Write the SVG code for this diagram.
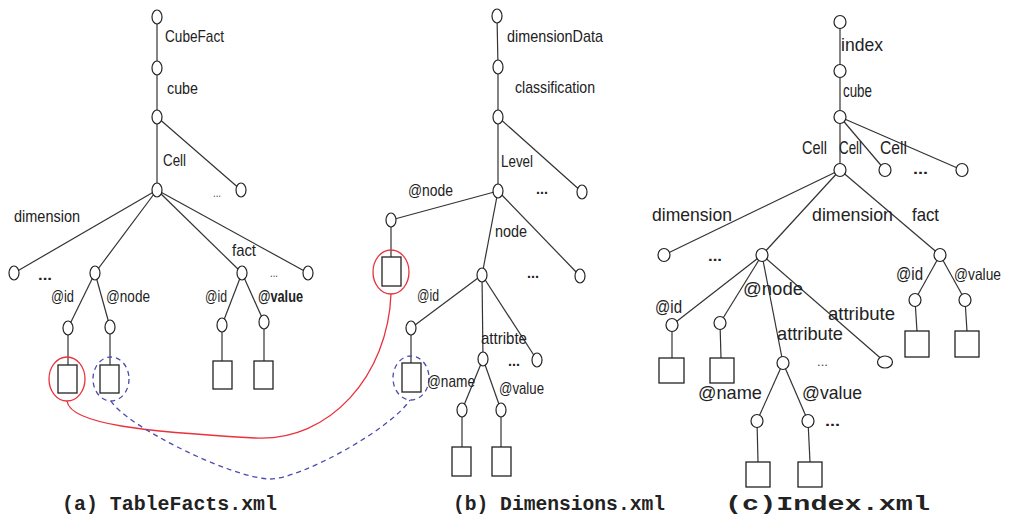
<svg xmlns="http://www.w3.org/2000/svg" width="1010" height="518" viewBox="0 0 1010 518">
<style>
.e{stroke:#333;stroke-width:1.2;fill:none}
.n{fill:#fff;stroke:#222;stroke-width:1.2}
.r{fill:#fff;stroke:#222;stroke-width:1.3}
.l{font-family:"Liberation Sans",Arial,sans-serif;font-size:17px;fill:#222}
.lc{font-family:"Liberation Sans",Arial,sans-serif;font-size:19px;fill:#222}
.d{font-family:"Liberation Sans",Arial,sans-serif;font-size:14px;fill:#222;font-weight:bold}
.dl{font-family:"Liberation Sans",Arial,sans-serif;font-size:12px;fill:#444}
.cap{font-family:"Liberation Mono","Courier New",monospace;font-size:20px;font-weight:bold;fill:#222}
.red{fill:none;stroke:#e8323c;stroke-width:1.3}
.blue{fill:none;stroke:#4a4ab0;stroke-width:1.3;stroke-dasharray:5 4}
</style>
<rect width="1010" height="518" fill="#fff"/>
<g id="connectors">
<line class="e" x1="157" y1="17" x2="157" y2="68"/>
<line class="e" x1="157" y1="68" x2="157" y2="117"/>
<line class="e" x1="157" y1="117" x2="157" y2="190"/>
<line class="e" x1="157" y1="117" x2="241" y2="190"/>
<line class="e" x1="157" y1="190" x2="14" y2="273"/>
<line class="e" x1="157" y1="190" x2="95" y2="273"/>
<line class="e" x1="157" y1="190" x2="242" y2="273"/>
<line class="e" x1="157" y1="190" x2="308" y2="273"/>
<line class="e" x1="95" y1="273" x2="68" y2="328"/>
<line class="e" x1="95" y1="273" x2="110" y2="327"/>
<line class="e" x1="242" y1="273" x2="222" y2="325"/>
<line class="e" x1="242" y1="273" x2="264" y2="322"/>
<line class="e" x1="68" y1="328" x2="68" y2="365"/>
<line class="e" x1="110" y1="327" x2="110" y2="365"/>
<line class="e" x1="222" y1="325" x2="222" y2="361"/>
<line class="e" x1="264" y1="322" x2="264" y2="361"/>
<line class="e" x1="497" y1="16" x2="498" y2="67"/>
<line class="e" x1="498" y1="67" x2="498" y2="117"/>
<line class="e" x1="498" y1="117" x2="498" y2="191"/>
<line class="e" x1="498" y1="117" x2="582" y2="192"/>
<line class="e" x1="498" y1="191" x2="391" y2="220"/>
<line class="e" x1="498" y1="191" x2="482" y2="275"/>
<line class="e" x1="498" y1="191" x2="580" y2="276"/>
<line class="e" x1="391" y1="220" x2="391" y2="257"/>
<line class="e" x1="482" y1="275" x2="411" y2="328"/>
<line class="e" x1="482" y1="275" x2="483" y2="359"/>
<line class="e" x1="482" y1="275" x2="537" y2="360"/>
<line class="e" x1="411" y1="328" x2="411" y2="363"/>
<line class="e" x1="483" y1="359" x2="462" y2="410"/>
<line class="e" x1="483" y1="359" x2="501" y2="410"/>
<line class="e" x1="462" y1="410" x2="462" y2="447"/>
<line class="e" x1="501" y1="410" x2="501" y2="447"/>
<line class="e" x1="840" y1="22" x2="840" y2="71"/>
<line class="e" x1="840" y1="71" x2="840" y2="117"/>
<line class="e" x1="840" y1="117" x2="840" y2="170"/>
<line class="e" x1="840" y1="117" x2="885" y2="170"/>
<line class="e" x1="840" y1="117" x2="962" y2="170"/>
<line class="e" x1="840" y1="170" x2="664" y2="255"/>
<line class="e" x1="840" y1="170" x2="762" y2="255"/>
<line class="e" x1="840" y1="170" x2="940" y2="255"/>
<line class="e" x1="762" y1="255" x2="672" y2="325"/>
<line class="e" x1="762" y1="255" x2="720" y2="323"/>
<line class="e" x1="762" y1="255" x2="783" y2="363"/>
<line class="e" x1="762" y1="255" x2="885" y2="362"/>
<line class="e" x1="672" y1="325" x2="672" y2="358"/>
<line class="e" x1="720" y1="323" x2="721" y2="358"/>
<line class="e" x1="783" y1="363" x2="757" y2="421"/>
<line class="e" x1="783" y1="363" x2="808" y2="421"/>
<line class="e" x1="757" y1="421" x2="758" y2="462"/>
<line class="e" x1="808" y1="421" x2="810" y2="462"/>
<line class="e" x1="940" y1="255" x2="915" y2="300"/>
<line class="e" x1="940" y1="255" x2="965" y2="300"/>
<line class="e" x1="915" y1="300" x2="917" y2="331"/>
<line class="e" x1="965" y1="300" x2="967" y2="331"/>
<path class="red" d="M67,401 C70,425 150,432 255,438 C330,442 388,375 391,294"/>
<path class="blue" d="M111,401 C125,425 230,478 270,479 C300,479 390,430 410,400"/>
</g>
<g id="tree-a">
<g id="a0"><ellipse class="n" cx="157" cy="17" rx="5" ry="7"/></g>
<g id="a1"><ellipse class="n" cx="157" cy="68" rx="5" ry="7"/></g>
<g id="a2"><ellipse class="n" cx="157" cy="117" rx="5" ry="7"/></g>
<g id="a3"><ellipse class="n" cx="157" cy="190" rx="5" ry="7"/></g>
<g id="a4"><ellipse class="n" cx="241" cy="190" rx="5" ry="7"/></g>
<g id="a5"><ellipse class="n" cx="14" cy="273" rx="5" ry="7"/></g>
<g id="a6"><ellipse class="n" cx="95" cy="273" rx="5" ry="7"/></g>
<g id="a7"><ellipse class="n" cx="242" cy="273" rx="5" ry="7"/></g>
<g id="a8"><ellipse class="n" cx="308" cy="273" rx="5" ry="7"/></g>
<g id="a9"><ellipse class="n" cx="68" cy="328" rx="5" ry="7"/></g>
<g id="a10"><ellipse class="n" cx="110" cy="327" rx="5" ry="7"/></g>
<g id="a11"><ellipse class="n" cx="222" cy="325" rx="5" ry="7"/></g>
<g id="a12"><ellipse class="n" cx="264" cy="322" rx="5" ry="7"/></g>
<g id="a-v1"><rect class="r" x="58" y="365" width="19" height="28"/><ellipse class="red" cx="67" cy="379" rx="18" ry="22"/></g>
<g id="a-v2"><rect class="r" x="100" y="365" width="19" height="28"/><ellipse class="blue" cx="111" cy="379" rx="18" ry="22"/></g>
<g id="a-v3"><rect class="r" x="213" y="361" width="19" height="28"/></g>
<g id="a-v4"><rect class="r" x="254" y="361" width="19" height="28"/></g>
</g>
<g id="tree-b">
<g id="b0"><ellipse class="n" cx="497" cy="16" rx="5" ry="7"/></g>
<g id="b1"><ellipse class="n" cx="498" cy="67" rx="5" ry="7"/></g>
<g id="b2"><ellipse class="n" cx="498" cy="117" rx="5" ry="7"/></g>
<g id="b3"><ellipse class="n" cx="498" cy="191" rx="5" ry="7"/></g>
<g id="b4"><ellipse class="n" cx="582" cy="192" rx="5" ry="7"/></g>
<g id="b5"><ellipse class="n" cx="391" cy="220" rx="5" ry="7"/></g>
<g id="b6"><ellipse class="n" cx="482" cy="275" rx="5" ry="7"/></g>
<g id="b7"><ellipse class="n" cx="580" cy="276" rx="5" ry="7"/></g>
<g id="b8"><ellipse class="n" cx="411" cy="328" rx="5" ry="7"/></g>
<g id="b9"><ellipse class="n" cx="483" cy="359" rx="5" ry="7"/></g>
<g id="b10"><ellipse class="n" cx="537" cy="360" rx="5" ry="7"/></g>
<g id="b11"><ellipse class="n" cx="462" cy="410" rx="5" ry="7"/></g>
<g id="b12"><ellipse class="n" cx="501" cy="410" rx="5" ry="7"/></g>
<g id="b-v1"><rect class="r" x="382" y="257" width="19" height="29"/><ellipse class="red" cx="391" cy="272" rx="18" ry="22"/></g>
<g id="b-v2"><rect class="r" x="402" y="363" width="19" height="29"/><ellipse class="blue" cx="411" cy="378" rx="18" ry="22"/></g>
<g id="b-v3"><rect class="r" x="452" y="447" width="19" height="29"/></g>
<g id="b-v4"><rect class="r" x="492" y="447" width="19" height="29"/></g>
</g>
<g id="tree-c">
<g id="c0"><ellipse class="n" cx="840" cy="22" rx="6" ry="6.5"/></g>
<g id="c1"><ellipse class="n" cx="840" cy="71" rx="6" ry="6.5"/></g>
<g id="c2"><ellipse class="n" cx="840" cy="117" rx="6" ry="6.5"/></g>
<g id="c3"><ellipse class="n" cx="840" cy="170" rx="6" ry="6.5"/></g>
<g id="c4"><ellipse class="n" cx="885" cy="170" rx="6" ry="6.5"/></g>
<g id="c5"><ellipse class="n" cx="962" cy="170" rx="6" ry="6.5"/></g>
<g id="c6"><ellipse class="n" cx="664" cy="255" rx="6" ry="6.5"/></g>
<g id="c7"><ellipse class="n" cx="762" cy="255" rx="6" ry="6.5"/></g>
<g id="c8"><ellipse class="n" cx="940" cy="255" rx="6" ry="6.5"/></g>
<g id="c9"><ellipse class="n" cx="672" cy="325" rx="6" ry="6.5"/></g>
<g id="c10"><ellipse class="n" cx="720" cy="323" rx="6" ry="6.5"/></g>
<g id="c11"><ellipse class="n" cx="783" cy="363" rx="6" ry="6.5"/></g>
<g id="c12"><ellipse class="n" cx="885" cy="362" rx="7.5" ry="6"/></g>
<g id="c13"><ellipse class="n" cx="757" cy="421" rx="6" ry="6.5"/></g>
<g id="c14"><ellipse class="n" cx="808" cy="421" rx="6" ry="6.5"/></g>
<g id="c15"><ellipse class="n" cx="915" cy="300" rx="6" ry="6.5"/></g>
<g id="c16"><ellipse class="n" cx="965" cy="300" rx="6" ry="6.5"/></g>
<g id="c-v1"><rect class="r" x="659" y="358" width="25" height="25"/></g>
<g id="c-v2"><rect class="r" x="710" y="358" width="24" height="25"/></g>
<g id="c-v3"><rect class="r" x="746" y="462" width="24" height="25"/></g>
<g id="c-v4"><rect class="r" x="798" y="462" width="24" height="25"/></g>
<g id="c-v5"><rect class="r" x="905" y="331" width="24" height="26"/></g>
<g id="c-v6"><rect class="r" x="955" y="331" width="24" height="26"/></g>
</g>
<g id="labels">
<text class="l" x="165" y="42" textLength="59" lengthAdjust="spacingAndGlyphs">CubeFact</text>
<text class="l" x="167" y="94" textLength="31" lengthAdjust="spacingAndGlyphs">cube</text>
<text class="l" x="163" y="166" textLength="23" lengthAdjust="spacingAndGlyphs">Cell</text>
<text class="l" x="14" y="222" textLength="66" lengthAdjust="spacingAndGlyphs">dimension</text>
<text class="l" x="232" y="256" textLength="24" lengthAdjust="spacingAndGlyphs">fact</text>
<text class="l" x="51" y="302" textLength="23" lengthAdjust="spacingAndGlyphs">@id</text>
<text class="l" x="106" y="302" textLength="44" lengthAdjust="spacingAndGlyphs">@node</text>
<text class="l" x="205" y="302" textLength="22" lengthAdjust="spacingAndGlyphs">@id</text>
<text class="l" x="258" y="302" textLength="45" lengthAdjust="spacingAndGlyphs" font-weight="bold">@value</text>
<text class="dl" x="213" y="197" textLength="8" lengthAdjust="spacingAndGlyphs">...</text>
<text class="d" x="38" y="280" textLength="14" lengthAdjust="spacingAndGlyphs">...</text>
<text class="dl" x="270" y="277" textLength="8" lengthAdjust="spacingAndGlyphs">...</text>
<text class="l" x="507" y="42" textLength="96" lengthAdjust="spacingAndGlyphs">dimensionData</text>
<text class="l" x="515" y="93" textLength="80" lengthAdjust="spacingAndGlyphs">classification</text>
<text class="l" x="501" y="167" textLength="32" lengthAdjust="spacingAndGlyphs">Level</text>
<text class="l" x="408" y="196" textLength="45" lengthAdjust="spacingAndGlyphs">@node</text>
<text class="l" x="495" y="237" textLength="32" lengthAdjust="spacingAndGlyphs">node</text>
<text class="l" x="417" y="301" textLength="22" lengthAdjust="spacingAndGlyphs">@id</text>
<text class="l" x="481" y="344" textLength="46" lengthAdjust="spacingAndGlyphs">attribte</text>
<text class="l" x="427" y="387" textLength="48" lengthAdjust="spacingAndGlyphs">@name</text>
<text class="l" x="499" y="394" textLength="45" lengthAdjust="spacingAndGlyphs">@value</text>
<text class="d" x="536" y="194" textLength="12" lengthAdjust="spacingAndGlyphs">...</text>
<text class="d" x="527" y="278" textLength="12" lengthAdjust="spacingAndGlyphs">...</text>
<text class="d" x="508" y="366" textLength="12" lengthAdjust="spacingAndGlyphs">...</text>
<text class="lc" x="841" y="51" textLength="42" lengthAdjust="spacingAndGlyphs">index</text>
<text class="lc" x="843" y="97" textLength="29" lengthAdjust="spacingAndGlyphs">cube</text>
<text class="lc" x="802" y="154" textLength="25" lengthAdjust="spacingAndGlyphs">Cell</text>
<text class="lc" x="839" y="154" textLength="23" lengthAdjust="spacingAndGlyphs">Cell</text>
<text class="lc" x="880" y="154" textLength="27" lengthAdjust="spacingAndGlyphs">Cell</text>
<text class="lc" x="652" y="221" textLength="80" lengthAdjust="spacingAndGlyphs">dimension</text>
<text class="lc" x="812" y="221" textLength="81" lengthAdjust="spacingAndGlyphs">dimension</text>
<text class="lc" x="912" y="221" textLength="27" lengthAdjust="spacingAndGlyphs">fact</text>
<text class="lc" x="896" y="280" textLength="27" lengthAdjust="spacingAndGlyphs">@id</text>
<text class="lc" x="954" y="280" textLength="47" lengthAdjust="spacingAndGlyphs" style="font-size:16.5px">@value</text>
<text class="lc" x="655" y="313" textLength="27" lengthAdjust="spacingAndGlyphs">@id</text>
<text class="lc" x="743" y="295" textLength="60" lengthAdjust="spacingAndGlyphs">@node</text>
<text class="lc" x="828" y="320" textLength="67" lengthAdjust="spacingAndGlyphs">attribute</text>
<text class="lc" x="777" y="340" textLength="66" lengthAdjust="spacingAndGlyphs">attribute</text>
<text class="lc" x="698" y="399" textLength="64" lengthAdjust="spacingAndGlyphs">@name</text>
<text class="lc" x="802" y="399" textLength="60" lengthAdjust="spacingAndGlyphs">@value</text>
<text class="d" x="913" y="174" textLength="15" lengthAdjust="spacingAndGlyphs">...</text>
<text class="d" x="708" y="261" textLength="14" lengthAdjust="spacingAndGlyphs">...</text>
<text class="dl" x="817" y="366" textLength="11" lengthAdjust="spacingAndGlyphs">...</text>
<text class="d" x="825" y="426" textLength="15" lengthAdjust="spacingAndGlyphs">...</text>
<text class="cap" x="62" y="510" textLength="215" lengthAdjust="spacingAndGlyphs">(a) TableFacts.xml</text>
<text class="cap" x="453" y="510" textLength="212" lengthAdjust="spacingAndGlyphs">(b) Dimensions.xml</text>
<text class="cap" x="725" y="510" textLength="205" lengthAdjust="spacingAndGlyphs">(c)Index.xml</text>
</g>
</svg>
